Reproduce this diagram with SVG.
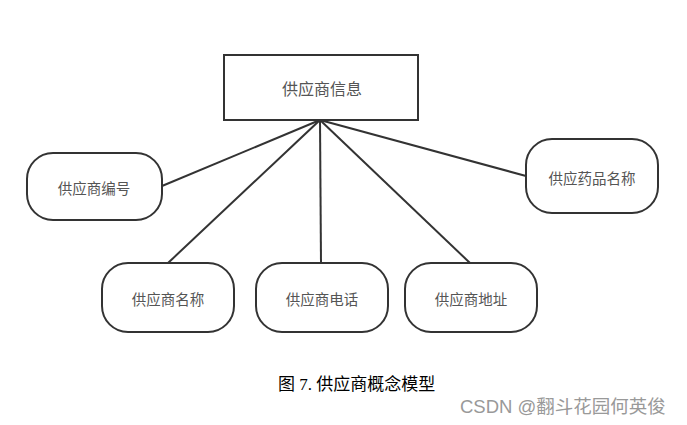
<svg xmlns="http://www.w3.org/2000/svg" width="687" height="425" viewBox="0 0 687 425">
<style>
.n{fill:#fff;stroke:#333;stroke-width:2}
.t{font-family:"Noto Sans CJK SC","Noto Sans",sans-serif;font-size:14.5px;fill:#555;text-anchor:middle;dominant-baseline:central}
.c{stroke:#333;stroke-width:2;fill:none}
</style>
<rect width="687" height="425" fill="#fff"/>
<g id="connectors">
<line class="c" x1="320" y1="120" x2="162" y2="186"/>
<line class="c" x1="320" y1="120" x2="168" y2="263"/>
<line class="c" x1="320" y1="120" x2="321" y2="263"/>
<line class="c" x1="320" y1="120" x2="470" y2="263"/>
<line class="c" x1="320" y1="120" x2="526" y2="176"/>
</g>
<g id="root"><rect class="n" x="224" y="55" width="194" height="65"/><text class="t" x="322" y="88" style="font-size:16px">供应商信息</text></g>
<g id="n1"><rect class="n" x="27" y="153" width="135" height="67" rx="26"/><text class="t" x="94" y="187">供应商编号</text></g>
<g id="n2"><rect class="n" x="102" y="263" width="132" height="69" rx="26"/><text class="t" x="168" y="298">供应商名称</text></g>
<g id="n3"><rect class="n" x="256" y="263" width="132" height="69" rx="26"/><text class="t" x="322" y="298">供应商电话</text></g>
<g id="n4"><rect class="n" x="405" y="263" width="132" height="69" rx="26"/><text class="t" x="471" y="298">供应商地址</text></g>
<g id="n5"><rect class="n" x="526" y="139" width="132" height="74" rx="26"/><text class="t" x="592" y="177">供应药品名称</text></g>
<text x="278" y="390" style="font-family:'Liberation Serif','Noto Sans CJK SC',serif;font-size:17px;fill:#000">图 7. 供应商概念模型</text>
<text x="460" y="413" style="font-family:'Liberation Sans','Noto Sans CJK SC',sans-serif;font-size:18.5px;fill:#999">CSDN @翻斗花园何英俊</text>
</svg>
